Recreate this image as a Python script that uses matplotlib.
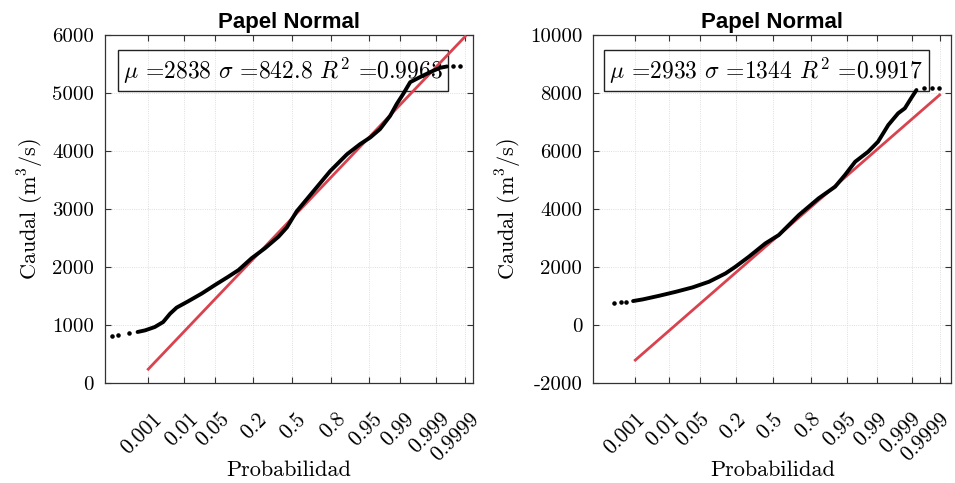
import numpy as np
import matplotlib
matplotlib.use('Agg')
import matplotlib.pyplot as plt
from matplotlib.transforms import ScaledTranslation
from statistics import NormalDist

plt.rcParams['font.family'] = 'cmr10'
plt.rcParams['mathtext.fontset'] = 'cm'
plt.rcParams['axes.unicode_minus'] = False
plt.rcParams['axes.formatter.use_mathtext'] = True

# ---------------- datos ----------------
# eje x: probabilidad (papel normal), posiciones en variable normal estandar z
prob_ticks = [0.001, 0.01, 0.05, 0.2, 0.5, 0.8, 0.95, 0.99, 0.999, 0.9999]
prob_labels = ['0.001', '0.01', '0.05', '0.2', '0.5', '0.8', '0.95', '0.99', '0.999', '0.9999']

# estacion izquierda
mu_izq, sigma_izq, r2_izq = 2838, 842.8, 0.9963
z_izq_bajo = [-3.86, -3.73, -3.51]
q_izq_bajo = [800, 820, 855]
z_izq = [-3.32, -3.16, -2.95, -2.77, -2.62, -2.48, -2.23, -1.94, -1.66, -1.37,
         -1.15, -0.87, -0.58, -0.29, -0.11, 0.10, 0.46, 0.82, 1.18, 1.46,
         1.68, 1.89, 2.11, 2.25, 2.39, 2.54, 2.75, 2.97, 3.18, 3.33]
q_izq = [875, 903, 961, 1047, 1192, 1296, 1406, 1539, 1684, 1829,
         1944, 2147, 2321, 2520, 2680, 2957, 3304, 3651, 3941, 4115,
         4231, 4375, 4606, 4809, 4983, 5186, 5273, 5359, 5434, 5457]
z_izq_alto = [3.47, 3.61]
q_izq_alto = [5463, 5463]
yticks_izq = [0, 1000, 2000, 3000, 4000, 5000, 6000]

# estacion derecha
mu_der, sigma_der, r2_der = 2933, 1344, 0.9917
z_der_bajo = [-3.57, -3.40, -3.29]
q_der_bajo = [759, 773, 784]
z_der = [-3.14, -2.92, -2.55, -2.18, -1.81, -1.44, -1.07, -0.85, -0.55, -0.18,
         0.12, 0.57, 1.01, 1.38, 1.60, 1.83, 2.12, 2.34, 2.57, 2.79,
         2.94, 3.08, 3.20]
q_der = [818, 876, 1002, 1139, 1289, 1485, 1773, 2002, 2347, 2808,
         3096, 3787, 4362, 4764, 5167, 5627, 5972, 6317, 6893, 7297,
         7470, 7815, 8101]
z_der_alto = [3.38, 3.55, 3.70]
q_der_alto = [8160, 8160, 8170]
yticks_der = [-2000, 0, 2000, 4000, 6000, 8000, 10000]
# -----------------------------------------------------------

nd = NormalDist()
z_ticks = [nd.inv_cdf(p) for p in prob_ticks]

fig = plt.figure(figsize=(9.55, 4.83), dpi=100)
fig.patch.set_facecolor('white')


def papel_normal(ax, zb, qb, z, q, za, qa, mu, sigma, r2, yticks, xlim, dx):
    # recta de ajuste entre p=0.001 y p=0.9999
    zr = np.array([z_ticks[0], z_ticks[-1]])
    ax.plot(zr, mu + sigma*zr, color='#d9434f', lw=2, zorder=3)
    ax.plot(z, q, color='black', lw=2.8, zorder=4, solid_capstyle='round')
    ax.plot(zb, qb, 'k.', ms=4.5, zorder=4)
    ax.plot(za, qa, 'k.', ms=4.5, zorder=4)

    ax.set_xlim(xlim)
    ax.set_ylim(yticks[0], yticks[-1])
    ax.set_xticks(z_ticks)
    ax.set_xticklabels(prob_labels, rotation=45, ha='right', va='top',
                       rotation_mode='anchor', fontsize=15.5)
    ax.set_yticks(yticks)
    ax.set_yticklabels([str(v) for v in yticks], fontsize=15)
    ax.tick_params(direction='in', length=4, width=0.8, top=True, right=True,
                   color='#333333')
    ax.tick_params(axis='x', pad=19)
    ax.tick_params(axis='y', pad=8)
    for lab in ax.get_xticklabels():
        lab.set_transform(lab.get_transform() + ScaledTranslation(dx, 0, fig.dpi_scale_trans))
    ax.grid(True, color='#d4d4d4', ls=':', lw=0.6)
    for s in ax.spines.values():
        s.set_color('#333333')
        s.set_linewidth(0.9)

    ax.set_title('Papel Normal', fontfamily='Liberation Sans', fontweight='bold',
                 fontsize=16, pad=5)
    ax.set_xlabel('Probabilidad', fontsize=16)
    ax.xaxis.set_label_coords(0.5, -0.225)
    ax.set_ylabel(r'Caudal (m$^3$/s)', fontsize=16, labelpad=4)

    texto = r'$\mu$ =%s $\sigma$ =%s $R^2$ =%s' % (mu, sigma, r2)
    ax.text(0.483, 0.898, texto, transform=ax.transAxes, ha='center', va='center',
            fontsize=17, zorder=2,
            bbox=dict(boxstyle='square,pad=0.22', fc='none', ec='#222222', lw=1))


ax1 = fig.add_axes([105/955, 1 - 382.7/483, 368/955, 347.7/483])
papel_normal(ax1, z_izq_bajo, q_izq_bajo, z_izq, q_izq, z_izq_alto, q_izq_alto,
             mu_izq, sigma_izq, r2_izq, yticks_izq, (-4.02, 3.89), 0.04)

ax2 = fig.add_axes([593.3/955, 1 - 382.7/483, 358/955, 347.7/483])
papel_normal(ax2, z_der_bajo, q_der_bajo, z_der, q_der, z_der_alto, q_der_alto,
             mu_der, sigma_der, r2_der, yticks_der, (-4.03, 3.98), -0.005)

fig.savefig('out.png', dpi=100)
